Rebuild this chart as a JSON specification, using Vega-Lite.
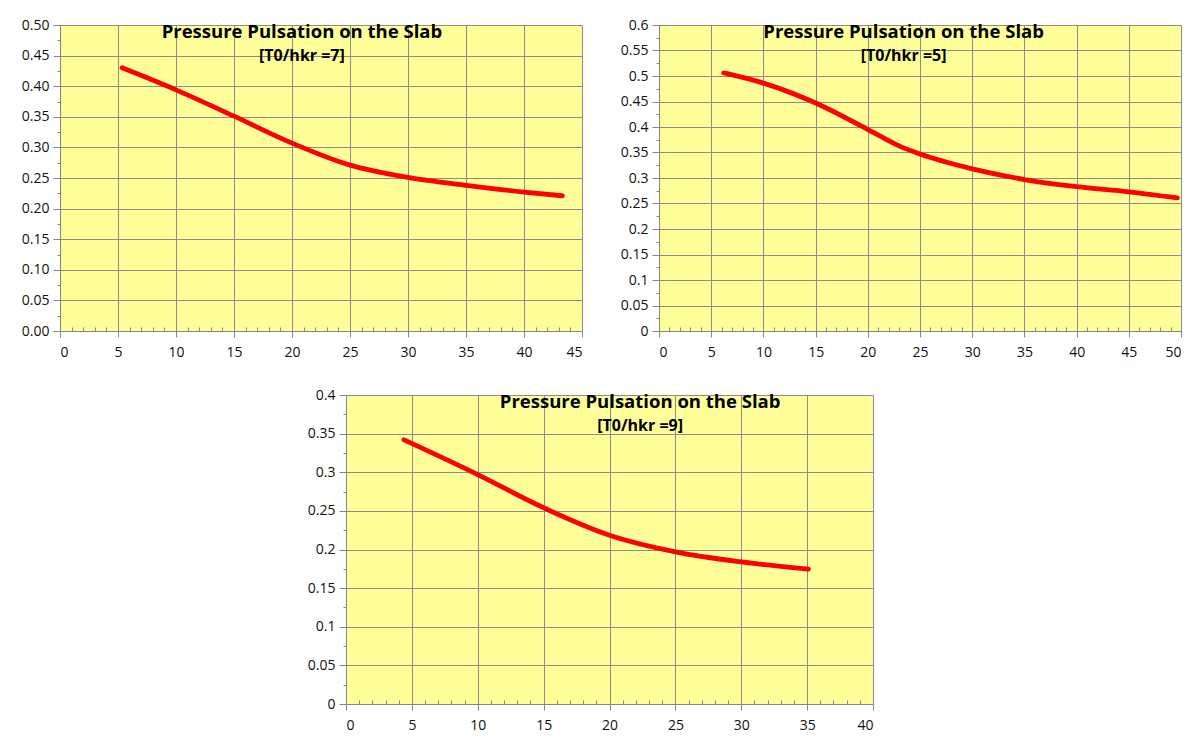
{
  "$schema": "https://vega.github.io/schema/vega-lite/v6.json",
  "background": "white",
  "padding": {"left": 21, "top": 18, "right": 6, "bottom": 4},
  "center": true,
  "spacing": 29,
  "config": {
    "view": {"fill": "#FFFF99", "stroke": null},
    "font": "Open Sans",
    "axis": {
      "gridColor": "#8c8c8c",
      "gridWidth": 1,
      "domainColor": "#868686",
      "tickColor": "#868686",
      "labelFont": "Open Sans",
      "labelFontSize": 14,
      "labelColor": "#111111",
      "labelOverlap": false,
      "title": null
    },
    "title": {
      "font": "Open Sans",
      "fontSize": 18.5,
      "fontWeight": "bold",
      "color": "#000000",
      "subtitleFont": "Open Sans",
      "subtitleFontSize": 16,
      "subtitleFontWeight": "bold",
      "subtitleColor": "#000000",
      "subtitlePadding": 7,
      "anchor": "middle",
      "frame": "bounds",
      "offset": -46
    },
    "line": {"color": "#FF0000", "strokeWidth": 4.8, "interpolate": "monotone", "strokeCap": "round"}
  },
  "vconcat": [
    {
      "hconcat": [
        {
          "width": 522,
          "height": 306,
          "title": {"text": "Pressure Pulsation on the Slab", "subtitle": "[T0/hkr =7]"},
          "data": {"values": [
            {"x": 5.35, "y": 0.430},
            {"x": 10, "y": 0.394},
            {"x": 15, "y": 0.351},
            {"x": 20, "y": 0.307},
            {"x": 25, "y": 0.271},
            {"x": 30, "y": 0.251},
            {"x": 35, "y": 0.238},
            {"x": 40, "y": 0.227},
            {"x": 43.3, "y": 0.221}
          ]},
          "mark": {"type": "line"},
          "encoding": {
            "x": {"field": "x", "type": "quantitative",
              "scale": {"domain": [0, 45], "nice": false},
              "axis": {
                "values": [0,1,2,3,4,5,6,7,8,9,10,11,12,13,14,15,16,17,18,19,20,21,22,23,24,25,26,27,28,29,30,31,32,33,34,35,36,37,38,39,40,41,42,43,44,45],
                "labelExpr": "datum.value % 5 === 0 ? datum.label : ''",
                "gridOpacity": {"condition": {"test": "datum.value % 5 === 0", "value": 1}, "value": 0},
                "tickSize": {"condition": {"test": "datum.value % 5 === 0", "value": 6}, "value": -4},
                "labelPadding": 8
              }},
            "y": {"field": "y", "type": "quantitative",
              "scale": {"domain": [0, 0.5], "nice": false},
              "axis": {
                "values": [0,0.025,0.05,0.075,0.1,0.125,0.15,0.175,0.2,0.225,0.25,0.275,0.3,0.325,0.35,0.375,0.4,0.425,0.45,0.475,0.5],
                "format": ".2f",
                "labelExpr": "abs(datum.value*20-round(datum.value*20)) < 0.001 ? datum.label : ''",
                "gridOpacity": {"condition": {"test": "abs(datum.value*20-round(datum.value*20)) < 0.001", "value": 1}, "value": 0},
                "tickSize": {"condition": {"test": "abs(datum.value*20-round(datum.value*20)) < 0.001", "value": 7}, "value": 3},
                "labelPadding": 4
              }}
          }
        },
        {
          "width": 522,
          "height": 306,
          "title": {"text": "Pressure Pulsation on the Slab", "subtitle": "[T0/hkr =5]"},
          "data": {"values": [
            {"x": 6.2, "y": 0.506},
            {"x": 10, "y": 0.486},
            {"x": 15, "y": 0.447},
            {"x": 20, "y": 0.395},
            {"x": 21.1, "y": 0.383},
            {"x": 23, "y": 0.363},
            {"x": 25, "y": 0.347},
            {"x": 30, "y": 0.318},
            {"x": 35, "y": 0.297},
            {"x": 40, "y": 0.283},
            {"x": 45, "y": 0.273},
            {"x": 49.65, "y": 0.261}
          ]},
          "mark": {"type": "line"},
          "encoding": {
            "x": {"field": "x", "type": "quantitative",
              "scale": {"domain": [0, 50], "nice": false},
              "axis": {
                "values": [0,1,2,3,4,5,6,7,8,9,10,11,12,13,14,15,16,17,18,19,20,21,22,23,24,25,26,27,28,29,30,31,32,33,34,35,36,37,38,39,40,41,42,43,44,45,46,47,48,49,50],
                "labelExpr": "datum.value % 5 === 0 ? datum.label : ''",
                "gridOpacity": {"condition": {"test": "datum.value % 5 === 0", "value": 1}, "value": 0},
                "tickSize": {"condition": {"test": "datum.value % 5 === 0", "value": 6}, "value": -4},
                "labelPadding": 8
              }},
            "y": {"field": "y", "type": "quantitative",
              "scale": {"domain": [0, 0.6], "nice": false},
              "axis": {
                "values": [0,0.025,0.05,0.075,0.1,0.125,0.15,0.175,0.2,0.225,0.25,0.275,0.3,0.325,0.35,0.375,0.4,0.425,0.45,0.475,0.5,0.525,0.55,0.575,0.6],
                "format": "~g",
                "labelExpr": "abs(datum.value*20-round(datum.value*20)) < 0.001 ? datum.label : ''",
                "gridOpacity": {"condition": {"test": "abs(datum.value*20-round(datum.value*20)) < 0.001", "value": 1}, "value": 0},
                "tickSize": {"condition": {"test": "abs(datum.value*20-round(datum.value*20)) < 0.001", "value": 7}, "value": 3},
                "labelPadding": 4
              }}
          }
        }
      ],
      "spacing": 37
    },
    {
      "width": 527,
      "height": 309,
      "title": {"text": "Pressure Pulsation on the Slab", "subtitle": "[T0/hkr =9]", "dx": 36},
      "data": {"values": [
        {"x": 4.4, "y": 0.342},
        {"x": 10, "y": 0.297},
        {"x": 15, "y": 0.254},
        {"x": 20, "y": 0.2185},
        {"x": 25, "y": 0.197},
        {"x": 30, "y": 0.184},
        {"x": 35.1, "y": 0.1746}
      ]},
      "encoding": {
        "x": {"field": "x", "type": "quantitative",
          "scale": {"domain": [0, 40], "nice": false},
          "axis": {
            "values": [0,1,2,3,4,5,6,7,8,9,10,11,12,13,14,15,16,17,18,19,20,21,22,23,24,25,26,27,28,29,30,31,32,33,34,35,36,37,38,39,40],
            "labelExpr": "datum.value % 5 === 0 ? datum.label : ''",
            "gridOpacity": {"condition": {"test": "datum.value % 5 === 0", "value": 1}, "value": 0},
            "tickSize": {"condition": {"test": "datum.value % 5 === 0", "value": 6}, "value": -4},
            "labelPadding": 8
          }}
      },
      "layer": [
        {
          "mark": {"type": "line"},
          "encoding": {
            "y": {"field": "y", "type": "quantitative",
              "scale": {"domain": [0, 0.4], "nice": false},
              "axis": {
                "values": [0,0.025,0.05,0.075,0.1,0.125,0.15,0.175,0.2,0.225,0.25,0.275,0.3,0.325,0.35,0.375,0.4],
                "format": "~g",
                "labelExpr": "abs(datum.value*20-round(datum.value*20)) < 0.001 ? datum.label : ''",
                "gridOpacity": {"condition": {"test": "abs(datum.value*20-round(datum.value*20)) < 0.001", "value": 1}, "value": 0},
                "tickSize": {"condition": {"test": "abs(datum.value*20-round(datum.value*20)) < 0.001", "value": 7}, "value": 3},
                "labelPadding": 4
              }}
          }
        },
        {
          "mark": {"type": "line", "opacity": 0},
          "encoding": {
            "y": {"field": "y", "type": "quantitative",
              "axis": {"orient": "right", "labels": false, "ticks": false, "domain": false, "grid": false, "minExtent": 28, "maxExtent": 28}}
          }
        }
      ],
      "resolve": {"axis": {"y": "independent"}}
    }
  ]
}
